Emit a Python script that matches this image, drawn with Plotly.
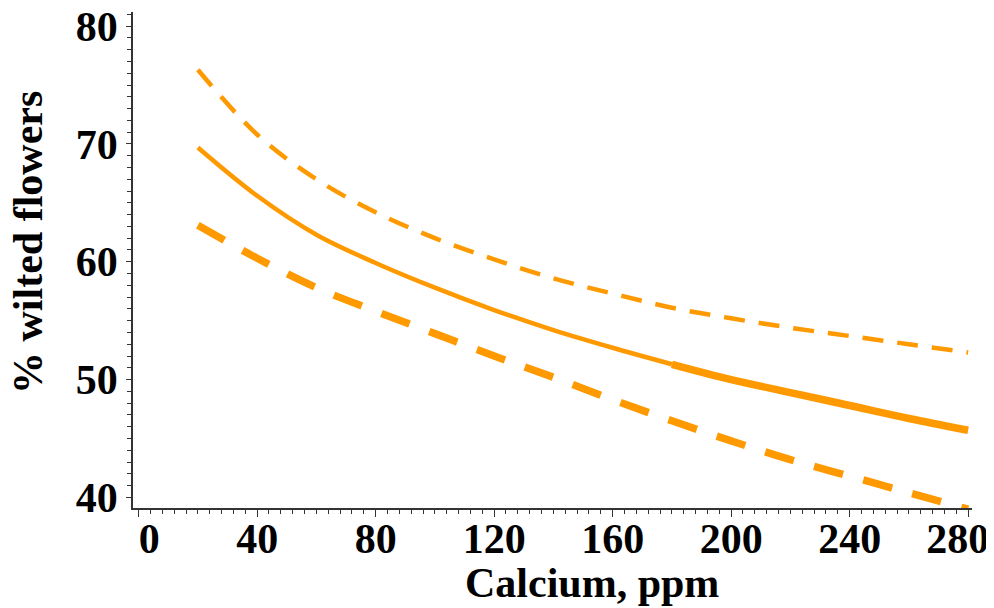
import plotly.graph_objects as go

# Data
calcium = [20, 40, 60, 80, 100, 120, 140, 160, 180, 200, 220, 240, 260, 280]
upper_ci = [76.3, 70.8, 67.0, 64.2, 62.0, 60.2, 58.6, 57.3, 56.1, 55.2, 54.4, 53.7, 53.0, 52.3]
fitted = [69.7, 65.6, 62.3, 59.9, 57.8, 55.9, 54.2, 52.7, 51.3, 50.0, 48.9, 47.8, 46.7, 45.7]
lower_ci = [63.1, 60.3, 57.8, 55.8, 53.9, 52.0, 50.2, 48.3, 46.5, 44.8, 43.2, 41.8, 40.4, 39.0]

x_ticks = [0, 40, 80, 120, 160, 200, 240, 280]
NB = "\u00a0"
# labels of the first and last tick sit slightly inward of their ticks in the reference
x_tick_labels = [NB * 2 + "0", "40", "80", "120", "160", "200", "240", "280" + NB * 2]
y_ticks = [40, 50, 60, 70, 80]
split_x = 180

ORANGE = "#FF9900"
FONT = "Liberation Serif"

idx = calcium.index(split_x)

fig = go.Figure()
fig.add_trace(go.Scatter(x=calcium, y=upper_ci, mode="lines",
                         line=dict(color=ORANGE, width=4.5, dash="21px,14px", shape="spline"),
                         showlegend=False))
fig.add_trace(go.Scatter(x=calcium[:idx + 1], y=fitted[:idx + 1], mode="lines",
                         line=dict(color=ORANGE, width=4.5, shape="spline"),
                         showlegend=False))
fig.add_trace(go.Scatter(x=calcium[idx:], y=fitted[idx:], mode="lines",
                         line=dict(color=ORANGE, width=7.5, shape="spline"),
                         showlegend=False))
fig.add_trace(go.Scatter(x=calcium, y=lower_ci, mode="lines",
                         line=dict(color=ORANGE, width=7.5, dash="30px,21px", shape="spline"),
                         showlegend=False))

axis_common = dict(
    showgrid=False, zeroline=False, showline=True, linecolor="#333333", linewidth=1.5,
    ticks="outside", tickcolor="#333333", tickwidth=1.2, automargin=False,
    ticklabeloverflow="allow",
    tickfont=dict(family=FONT, size=42, color="black", weight="bold"),
)

fig.update_xaxes(range=[-1.9, 281.3], tickvals=x_ticks, ticktext=x_tick_labels,
                 ticklen=7, ticklabelstandoff=-14,
                 minor=dict(dtick=4, tick0=0, ticks="outside", ticklen=4, tickcolor="#333333", tickwidth=1),
                 **axis_common)
fig.update_yaxes(range=[39.1, 81.2], tickvals=y_ticks, ticklen=5,
                 minor=dict(dtick=1, tick0=0, ticks="outside", ticklen=4, tickcolor="#333333", tickwidth=1),
                 **axis_common)

fig.add_annotation(text="Calcium, ppm", xref="paper", yref="paper", x=(592 - 133) / 839, y=-75 / 496,
                   showarrow=False, xanchor="center", yanchor="middle",
                   font=dict(family=FONT, size=42, color="black", weight="bold"))
fig.add_annotation(text="% wilted flowers", xref="paper", yref="paper", x=-105 / 839, y=(508 - 243) / 496,
                   showarrow=False, xanchor="center", yanchor="middle", textangle=-90,
                   font=dict(family=FONT, size=42, color="black", weight="bold"))

# The page body adds an 8px offset, so the figure is sized and margined to compensate
fig.update_layout(
    width=986, height=600, autosize=False,
    margin=dict(l=125, r=22, t=4, b=100),
    paper_bgcolor="white", plot_bgcolor="white",
)

fig.write_html("out.html")
